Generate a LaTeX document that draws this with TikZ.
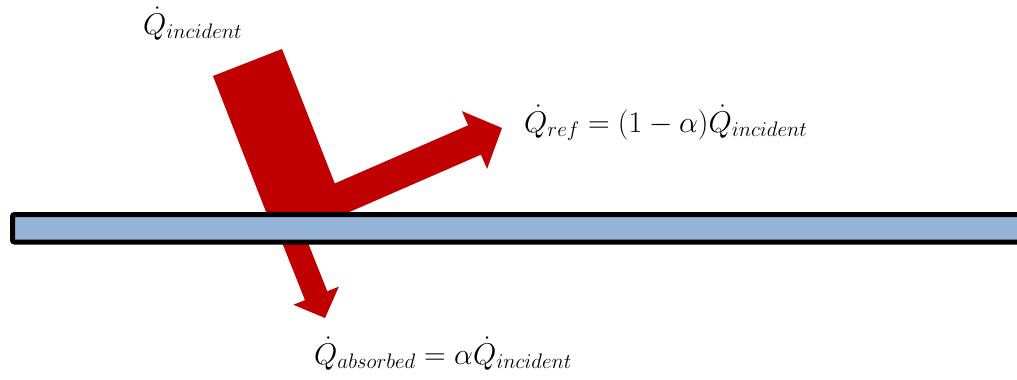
\documentclass[tikz,border=0pt]{standalone}
\usepackage{fix-cm}
\usepackage{amsmath,amssymb}
\usepackage{tikz}
\usetikzlibrary{calc}
\definecolor{heatred}{RGB}{192,0,0}
\definecolor{slabblue}{RGB}{149,179,215}
% start, tip, half shaft width, half head width, head length
\newcommand{\heatarrow}[5]{%
  \path ($(#2)!#5!(#1)$) coordinate (neck);
  \fill[heatred] ($(#1)!#3!90:(#2)$) -- ($(neck)!#3!-90:(#1)$) -- ($(neck)!#4!-90:(#1)$) -- (#2)
    -- ($(neck)!#4!90:(#1)$) -- ($(neck)!#3!90:(#1)$) -- ($(#1)!#3!-90:(#2)$) -- cycle;
}

\begin{document}
\begin{tikzpicture}[x=1pt, y=-1pt, lbl/.style={anchor=base west, inner sep=0pt, font=\fontsize{30}{34}\selectfont}]
        \useasboundingbox (0,0) rectangle (1017,380);
        % incident beam
        \coordinate (in1) at (213,76);
        \coordinate (in2) at (282,49);
        \fill[heatred] (in1) -- (in2) -- (355,235) -- (275,235) -- cycle;
        % reflected and absorbed parts
        \coordinate (refstart) at (330,203);
        \coordinate (reftip) at (502,128);
        \heatarrow{refstart}{reftip}{16pt}{31.5pt}{30pt}
        \coordinate (absstart) at (286,220);
        \coordinate (abstip) at (325,318);
        \heatarrow{absstart}{abstip}{12pt}{24.5pt}{24pt}
        % plate
        \begin{scope}
            \clip (0,0) rectangle (1017,380);
            \draw[line width=5pt, fill=slabblue, rounded corners=2pt] (12.5,214.5) rectangle (1040,242);
        \end{scope}
        \node[lbl] (qin) at (143,34) {$\dot{Q}_{incident}$};
        \node[lbl] (qref) at (524,132) {$\dot{Q}_{ref} = (1-\alpha)\dot{Q}_{incident}$};
        \node[lbl] (qabs) at (314,364) {$\dot{Q}_{absorbed} = \alpha\dot{Q}_{incident}$};
    \end{tikzpicture}
\end{document}
